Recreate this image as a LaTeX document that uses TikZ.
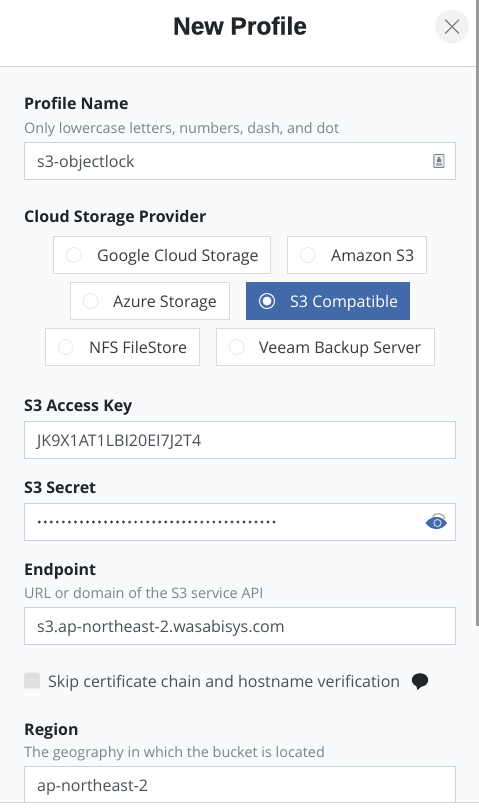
\documentclass[tikz,border=0pt]{standalone}
\usepackage{fontspec}
\setmainfont{Open Sans}
\newfontfamily\titlefont[BoldFeatures={FakeBold=0.7}]{Liberation Sans}
\definecolor{pagegray}{HTML}{F9FAFB}
\definecolor{linegray}{HTML}{D1D5DB}
\definecolor{boxgray}{HTML}{CBD2DC}
\definecolor{optgray}{HTML}{D9DBDD}
\definecolor{inkdark}{HTML}{212529}
\definecolor{inktext}{HTML}{495057}
\definecolor{inkhint}{HTML}{7B838B}
\definecolor{pickblue}{HTML}{4269A8}

\begin{document}
\begin{tikzpicture}[x=1pt,y=-1pt,
    field label/.style={anchor=base west,inner sep=0pt,font=\fontsize{16}{18}\selectfont\bfseries,text=inkdark},
    hint text/.style={anchor=base west,inner sep=0pt,font=\fontsize{14.4}{16}\selectfont,text=inkhint},
    field box/.style={draw=boxgray,fill=white,line width=0.9pt,outer sep=0pt,anchor=north west,minimum width=431pt,minimum height=37pt,inner sep=0pt},
    field text/.style={anchor=base west,inner sep=0pt,text=inktext,font=\fontsize{16}{18}\selectfont},
    opt box/.style={draw=optgray,fill=white,line width=0.9pt,outer sep=0pt,anchor=north west,minimum height=37pt,inner sep=0pt},
    opt text/.style={anchor=base west,inner sep=0pt,text=inkdark!90!white,font=\fontsize{16}{18}\selectfont},
    opt dot/.style={circle,draw=optgray!70!white,fill=white,line width=0.7pt,minimum size=15pt,inner sep=0pt}]
  \useasboundingbox (0,0) rectangle (479,812);
  % page and header
  \fill[white] (0,0) rectangle (479,812);
  \fill[pagegray] (0,66) rectangle (479,802);
  \draw[linegray,line width=0.9pt] (0,66.5) -- (476,66.5);
  \draw[linegray,line width=0.9pt] (0,802.5) -- (479,802.5);
  \fill[black!40] (476,0) rectangle (479,626);
  \node[anchor=base,inner sep=0pt,font=\fontsize{24.6}{26}\titlefont\bfseries,text=inkdark] (title) at (240,34.5) {New Profile};
  \node[circle,fill=black!5,minimum size=33.5pt,inner sep=0pt] (closebtn) at (452,26.5) {};
  \draw[inkhint,line width=1.3pt] (445.2,19.7) -- (459,33.5) (459,19.7) -- (445.2,33.5);

  % profile name
  \node[field label] (name label) at (24,109) {Profile Name};
  \node[hint text] (name hint) at (24,133) {Only lowercase letters, numbers, dash, and dot};
  \node[field box] (name box) at (24.5,142.5) {};
  \node[field text] (name text) at (37,167) {s3-objectlock};
  \draw[inkhint,fill=black!8,line width=0.9pt,rounded corners=0.8pt] (433.8,154.5) rectangle (444,167.5);
  \fill[inkhint] (439,158) circle (1.3pt) (437,159) rectangle (441,162);
  \fill[black!30] (436,163) rectangle (442,165.5);

  % provider options
  \node[field label] (cloud label) at (24,222) {Cloud Storage Provider};
  \node[opt box,minimum width=217pt] (google box) at (53.5,236.5) {};
  \node[opt box,minimum width=139pt] (amazon box) at (287.5,236.5) {};
  \node[opt box,minimum width=159pt] (azure box) at (70.5,282.5) {};
  \node[opt box,draw=pickblue,fill=pickblue,minimum width=163pt] (s3 box) at (246.5,282.5) {};
  \node[opt box,minimum width=154pt] (nfs box) at (45.5,328.5) {};
  \node[opt box,minimum width=218pt] (veeam box) at (216.5,328.5) {};

  \node[opt dot] (google dot) at (73.7,255) {};
  \node[opt dot] (amazon dot) at (307.7,255) {};
  \node[opt dot] (azure dot) at (90.7,301) {};
  \node[circle,draw=white,fill=pickblue,line width=1pt,minimum size=15pt,inner sep=0pt] (s3 dot) at (267,301) {};
  \fill[white] (s3 dot.center) circle (4.5pt);
  \node[opt dot] (nfs dot) at (65.7,347) {};
  \node[opt dot] (veeam dot) at (236.7,347) {};

  \node[opt text] (google text) at (97,261) {Google Cloud Storage};
  \node[opt text] (amazon text) at (331,261) {Amazon S3};
  \node[opt text] (azure text) at (113,307) {Azure Storage};
  \node[opt text,text=white] (s3 text) at (290,307) {S3 Compatible};
  \node[opt text] (nfs text) at (89,353) {NFS FileStore};
  \node[opt text] (veeam text) at (259,353) {Veeam Backup Server};

  % access key
  \node[field label] (key label) at (24,411) {S3 Access Key};
  \node[field box] (key box) at (24.5,421.5) {};
  \node[field text] (key text) at (37,446) {JK9X1AT1LBI20EI7J2T4};

  % secret
  \node[field label] (secret label) at (24,493) {S3 Secret};
  \node[field box] (secret box) at (24.5,503.5) {};
  \foreach \i in {0,...,39}
    \fill[inkdark!85!white] (39.3+\i*6.02,522) circle (1.6pt);
  \fill[pickblue] (425.5,523) .. controls (431,515) and (442,515) .. (447,523)
    .. controls (442,531) and (431,531) .. (425.5,523) -- cycle;
  \draw[black!40,line width=1pt] (432.5,517.5) .. controls (434,512) and (443,512) .. (445,519);
  \draw[white!70!pickblue,line width=1pt] (437.5,523) circle (3.6pt);

  % endpoint
  \node[field label] (end label) at (24,575) {Endpoint};
  \node[hint text] (end hint) at (24,598) {URL or domain of the S3 service API};
  \node[field box] (end box) at (24.5,607.5) {};
  \node[field text] (end text) at (37,632) {s3.ap-northeast-2.wasabisys.com};

  % skip check
  \node[fill=black!12,rounded corners=2.5pt,minimum size=16pt,inner sep=0pt] (skip check) at (32,680.7) {};
  \node[field text] (skip text) at (48,687) {Skip certificate chain and hostname verification};
  \fill[inkdark] (420,680) ellipse (8.2pt and 6.8pt);
  \fill[inkdark] (416,685) -- (422,686) -- (417.5,690) -- cycle;

  % region
  \node[field label] (region label) at (24,735) {Region};
  \node[hint text] (region hint) at (24,757) {The geography in which the bucket is located};
  \fill[white] (24.5,766.5) rectangle (455.5,802);
  \draw[boxgray,line width=0.9pt] (24.5,802) -- (24.5,766.5) -- (455.5,766.5) -- (455.5,802);
  \node[field text] (region text) at (37,791) {ap-northeast-2};
\end{tikzpicture}
\end{document}
